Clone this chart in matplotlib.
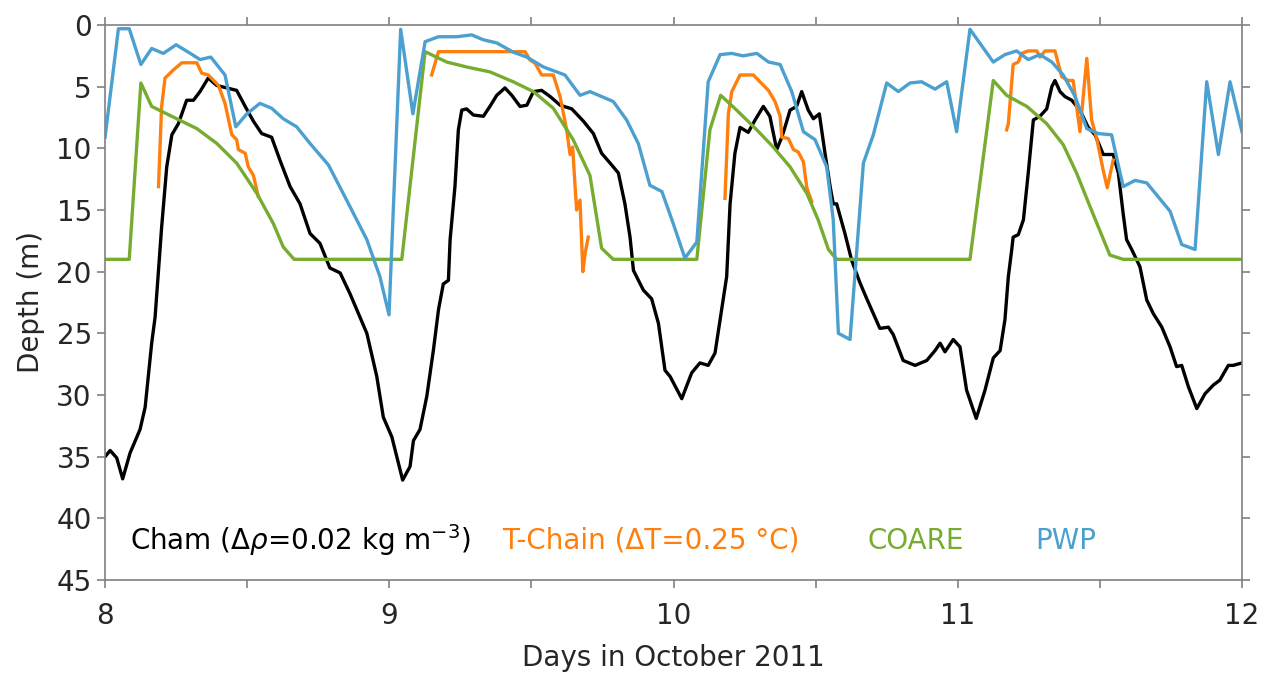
import matplotlib.pyplot as plt
import numpy as np

# Cham (black)
cham_day = [8.000, 8.018, 8.041, 8.062, 8.088, 8.123, 8.141, 8.152, 8.164, 8.176,
            8.188, 8.199, 8.217, 8.235, 8.258, 8.287, 8.311, 8.334, 8.363, 8.393,
            8.428, 8.463, 8.493, 8.522, 8.551, 8.586, 8.616, 8.651, 8.686, 8.721,
            8.756, 8.791, 8.827, 8.862, 8.897, 8.921, 8.956, 8.979, 9.009, 9.047,
            9.073, 9.085, 9.108, 9.132, 9.155, 9.173, 9.190, 9.208, 9.214, 9.231,
            9.243, 9.255, 9.272, 9.296, 9.331, 9.354, 9.378, 9.407, 9.431, 9.460,
            9.484, 9.507, 9.536, 9.566, 9.601, 9.642, 9.683, 9.718, 9.747, 9.777,
            9.806, 9.829, 9.847, 9.859, 9.894, 9.923, 9.947, 9.970, 9.988, 10.029,
            10.064, 10.093, 10.122, 10.146, 10.164, 10.187, 10.199, 10.216, 10.234, 10.263,
            10.287, 10.316, 10.339, 10.363, 10.381, 10.392, 10.410, 10.433, 10.451, 10.474,
            10.492, 10.513, 10.533, 10.551, 10.562, 10.574, 10.603, 10.627, 10.656, 10.680,
            10.726, 10.756, 10.773, 10.808, 10.850, 10.891, 10.920, 10.938, 10.955, 10.984,
            11.008, 11.031, 11.065, 11.096, 11.125, 11.149, 11.166, 11.178, 11.190, 11.195,
            11.213, 11.231, 11.248, 11.266, 11.289, 11.313, 11.331, 11.342, 11.360, 11.377,
            11.401, 11.430, 11.459, 11.483, 11.512, 11.547, 11.565, 11.582, 11.594, 11.612,
            11.641, 11.665, 11.688, 11.718, 11.747, 11.770, 11.788, 11.811, 11.841, 11.870,
            11.899, 11.922, 11.952, 11.969, 12.000]
cham_depth = [35.0, 34.5, 35.1, 36.8, 34.7, 32.8, 31.0, 28.5, 25.8, 23.7,
              19.9, 16.4, 11.5, 8.9, 8.0, 6.1, 6.1, 5.4, 4.3, 4.9,
              5.1, 5.3, 6.6, 7.8, 8.8, 9.1, 11.0, 13.1, 14.5, 16.9,
              17.7, 19.7, 20.1, 21.8, 23.7, 25.0, 28.5, 31.8, 33.4, 36.9,
              35.8, 33.7, 32.8, 30.1, 26.4, 23.1, 21.0, 20.7, 17.4, 13.1,
              8.5, 6.9, 6.8, 7.3, 7.4, 6.6, 5.7, 5.1, 5.7, 6.6,
              6.5, 5.4, 5.3, 5.8, 6.5, 6.8, 7.8, 8.8, 10.4, 11.2,
              12.0, 14.5, 17.2, 19.9, 21.5, 22.2, 24.2, 28.0, 28.5, 30.3,
              28.2, 27.4, 27.6, 26.6, 23.9, 20.4, 14.5, 10.4, 8.3, 8.7,
              7.7, 6.6, 7.4, 10.1, 9.1, 8.3, 6.9, 6.6, 5.4, 6.9,
              7.6, 7.2, 10.4, 13.1, 14.5, 14.5, 16.9, 19.1, 20.9, 22.2,
              24.6, 24.5, 25.1, 27.2, 27.6, 27.2, 26.4, 25.8, 26.5, 25.5,
              26.1, 29.6, 31.9, 29.6, 27.0, 26.4, 23.9, 20.4, 18.2, 17.2,
              17.0, 15.8, 12.0, 7.7, 7.4, 6.8, 5.0, 4.5, 5.4, 5.8,
              6.1, 6.9, 8.3, 8.9, 10.5, 10.5, 12.0, 15.3, 17.4, 18.2,
              19.6, 22.3, 23.4, 24.5, 26.1, 27.7, 27.6, 29.3, 31.1, 29.9,
              29.2, 28.8, 27.6, 27.6, 27.4]

# T-Chain (orange), NaN marks gaps between segments
tchain_day = [8.188, 8.199, 8.211, 8.240, 8.270, 8.323, 8.340, 8.363, 8.399, 8.422,
              8.446, 8.463, 8.469, 8.493, 8.504, 8.522, 8.539, np.nan,
              9.149, 9.173, 9.478, 9.495, 9.513, 9.536, 9.577, 9.601, 9.624, 9.636,
              9.645, 9.659, 9.671, 9.681, 9.689, 9.700, np.nan,
              10.181, 10.193, 10.205, 10.234, 10.281, 10.304, 10.334, 10.357, 10.375, 10.381,
              10.404, 10.422, 10.439, 10.457, 10.469, 10.486, np.nan,
              11.172, 11.178, 11.195, 11.213, 11.225, 11.248, 11.278, 11.289, 11.307, 11.342,
              11.366, 11.389, 11.406, 11.430, 11.454, 11.471, 11.489, 11.512, 11.526, 11.547]
tchain_depth = [13.1, 6.6, 4.3, 3.65, 3.06, 3.06, 3.9, 4.05, 4.9, 6.35,
                8.9, 9.3, 10.1, 10.4, 11.5, 12.2, 13.9, np.nan,
                4.05, 2.16, 2.16, 2.84, 3.1, 4.05, 4.05, 5.8, 8.5, 10.5,
                9.9, 15.0, 14.2, 20.0, 18.5, 17.2, np.nan,
                14.05, 7.2, 5.4, 4.05, 4.05, 4.6, 5.3, 6.2, 7.4, 9.1,
                9.2, 10.1, 10.3, 11.1, 13.2, 14.3, np.nan,
                8.5, 8.0, 3.2, 3.0, 2.3, 2.1, 2.1, 2.6, 2.1, 2.1,
                4.2, 4.5, 4.5, 8.65, 2.7, 7.7, 9.2, 11.8, 13.2, 10.95]

# COARE (green)
coare_day = [8.000, 8.085, 8.126, 8.164, 8.252, 8.323, 8.393, 8.463, 8.534, 8.592,
             8.627, 8.665, 9.044, 9.126, 9.202, 9.272, 9.354, 9.436, 9.507, 9.577,
             9.647, 9.706, 9.747, 9.788, 10.082, 10.128, 10.166, 10.222, 10.293, 10.351,
             10.410, 10.469, 10.509, 10.545, 10.574, 11.043, 11.125, 11.172, 11.243, 11.313,
             11.371, 11.418, 11.465, 11.535, 11.582, 12.000]
coare_depth = [19.0, 19.0, 4.7, 6.6, 7.6, 8.4, 9.6, 11.2, 13.65, 16.1,
               18.0, 19.0, 19.0, 2.16, 3.0, 3.4, 3.8, 4.6, 5.4, 6.75,
               9.3, 12.2, 18.1, 19.0, 19.0, 8.5, 5.7, 6.9, 8.5, 9.9,
               11.5, 13.65, 15.8, 18.2, 19.0, 19.0, 4.5, 5.7, 6.6, 8.0,
               9.7, 12.0, 14.7, 18.65, 19.0, 19.0]

# PWP (blue)
pwp_day = [8.000, 8.047, 8.085, 8.126, 8.164, 8.205, 8.250, 8.293, 8.334, 8.372,
           8.422, 8.460, 8.499, 8.545, 8.586, 8.627, 8.674, 8.721, 8.786, 8.850,
           8.921, 8.967, 8.999, 9.040, 9.083, 9.126, 9.173, 9.237, 9.290, 9.331,
           9.378, 9.436, 9.484, 9.542, 9.618, 9.671, 9.706, 9.788, 9.835, 9.876,
           9.917, 9.959, 9.999, 10.040, 10.082, 10.122, 10.164, 10.205, 10.245, 10.293,
           10.334, 10.375, 10.416, 10.457, 10.498, 10.539, 10.562, 10.580, 10.621, 10.668,
           10.703, 10.750, 10.791, 10.832, 10.873, 10.920, 10.961, 10.996, 11.043, 11.125,
           11.166, 11.207, 11.248, 11.289, 11.331, 11.371, 11.413, 11.454, 11.494, 11.541,
           11.582, 11.624, 11.665, 11.747, 11.788, 11.835, 11.876, 11.917, 11.958, 12.000]
pwp_depth = [9.1, 0.3, 0.3, 3.2, 1.9, 2.3, 1.6, 2.2, 2.8, 2.6,
             4.05, 8.25, 7.2, 6.35, 6.75, 7.6, 8.25, 9.6, 11.35, 14.2,
             17.4, 20.4, 23.5, 0.35, 7.2, 1.35, 0.95, 0.95, 0.8, 1.2,
             1.45, 2.2, 2.6, 3.4, 4.05, 5.7, 5.4, 6.2, 7.7, 9.6,
             13.0, 13.5, 16.1, 18.9, 17.6, 4.6, 2.4, 2.3, 2.5, 2.3,
             3.0, 3.2, 5.4, 8.65, 9.3, 11.5, 15.8, 25.0, 25.5, 11.2,
             8.9, 4.7, 5.4, 4.7, 4.6, 5.2, 4.6, 8.65, 0.35, 3.0,
             2.4, 2.1, 2.8, 2.4, 3.0, 4.05, 5.8, 8.4, 8.8, 8.9,
             13.1, 12.6, 12.8, 15.1, 17.8, 18.2, 4.6, 10.5, 4.6, 8.65]

c_cham = 'black'
c_tchain = '#ff7f0e'
c_coare = '#77ac30'
c_pwp = '#4ba0cf'
gray = '#808080'

plt.rcParams['font.size'] = 20

fig = plt.figure(figsize=(12.75, 6.8), dpi=100)
ax = fig.add_axes([0.0824, 0.1471, 0.8917, 0.8161])

lw = 2.4
ax.plot(cham_day, cham_depth, color=c_cham, lw=lw)
ax.plot(tchain_day, tchain_depth, color=c_tchain, lw=lw)
ax.plot(coare_day, coare_depth, color=c_coare, lw=lw)
ax.plot(pwp_day, pwp_depth, color=c_pwp, lw=lw)

ax.set_xlim(8, 12)
ax.set_ylim(45, 0)
ax.set_xticks([8, 9, 10, 11, 12])
ax.set_xticks(np.arange(8, 12.01, 0.5), minor=True)
ax.set_yticks(np.arange(0, 46, 5))

for s in ax.spines.values():
    s.set_color(gray)
    s.set_linewidth(1.2)
ax.tick_params(which='both', direction='out', top=True, right=True,
               length=6, width=1.2, color=gray, labelcolor='#262626')
ax.tick_params(axis='x', pad=10)

ax.set_xlabel('Days in October 2011', color='#262626', labelpad=10)
ax.set_ylabel('Depth (m)', color='#262626', labelpad=8)

ty = 41.8
ax.text(8.088, ty, r'Cham ($\Delta\rho$=0.02 kg m$^{\mathsf{-3}}$)', color=c_cham, va='center')
ax.text(9.397, ty, 'T-Chain (ΔT=0.25 °C)', color=c_tchain, va='center')
ax.text(10.684, ty, 'COARE', color=c_coare, va='center')
ax.text(11.272, ty, 'PWP', color=c_pwp, va='center')

fig.savefig('out.png', dpi=100)
